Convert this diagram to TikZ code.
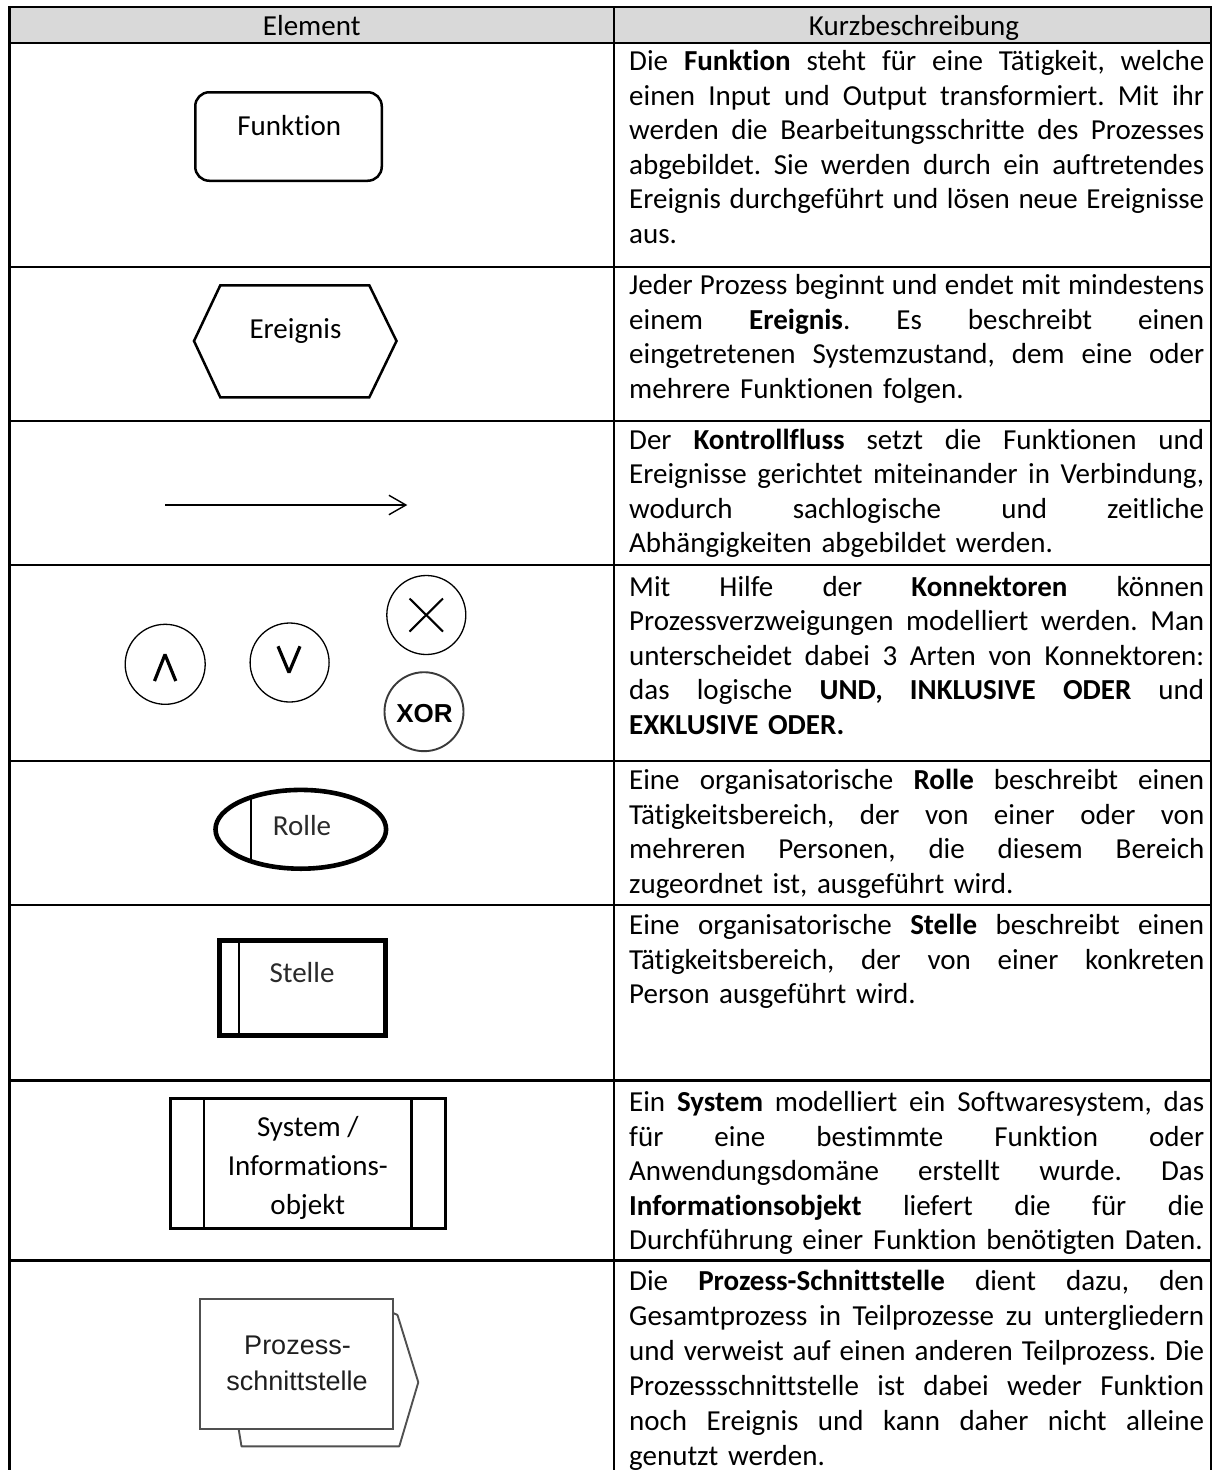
\documentclass[tikz,border=0pt]{standalone}
\usepackage{fontspec}
\setmainfont{Carlito}[Ligatures=NoCommon]
\newfontfamily\arialfont{Liberation Sans}
\usetikzlibrary{arrows.meta}

\definecolor{headgray}{HTML}{D9D9D9}
\definecolor{ifline}{HTML}{505050}
\definecolor{iftext}{HTML}{1E1E1E}
\definecolor{orgtext}{HTML}{2A2A2A}
\definecolor{xorline}{HTML}{3A3A3A}

% width of the description column text block
\newlength{\desccolw}
\setlength{\desccolw}{575pt}
% one fully justified line of a description (natural, stretchable word spaces)
\newcommand{\jline}[1]{\makebox[\desccolw][s]{\spaceskip=0pt\xspaceskip=0pt\frenchspacing #1}}

\tikzset{
  grid/.style={line width=2.8pt},
  celltext/.style={inner sep=0pt, font=\fontsize{29}{34.5}\selectfont},
  desc/.style={celltext, anchor=north west, text width=\desccolw, align=left},
  shapeline/.style={line width=2.5pt},
  thinline/.style={line width=1.3pt},
  glyphline/.style={line width=3.2pt, line join=bevel},
  flowarrow/.style={line width=1.4pt,
    -{Straight Barb[length=17pt, width=19.5pt, line width=1.4pt]}},
}

\begin{document}
\begin{tikzpicture}[x=1pt, y=-1pt]
\useasboundingbox (0,0) rectangle (1214,1470);

% ---------- table frame ----------
\fill[headgray] (9.5,7) rectangle (1211,43);
\draw[grid] (9.5,1472) -- (9.5,7) -- (1211,7) -- (1211,1472);
\draw[grid] (614,7) -- (614,1472);
\foreach \yy in {43,267,421,565,761,905,1080.5,1260.5}
  \draw[grid] (9.5,\yy) -- (1211,\yy);

% ---------- header ----------
\node[celltext, anchor=base] (hElem) at (311.75,35) {Element};
\node[celltext, anchor=base] (hDesc) at (914,35) {Kurzbeschreibung};

% ---------- Funktion ----------
\node[draw, shapeline, rectangle, rounded corners=14pt, inner sep=0pt,
      minimum width=186.5pt, minimum height=88.5pt] (fbox) at (288.5,136.5) {};
\node[celltext, anchor=base] (ftext) at (289.3,135) {Funktion};

% ---------- Ereignis ----------
\draw[shapeline, line join=miter] (194,341) -- (220.3,285.3) -- (369.3,285.3)
  -- (396.5,341) -- (369.3,397.3) -- (220.3,397.3) -- cycle;
\node[celltext, anchor=base] (etext) at (295.5,338) {Ereignis};

% ---------- Kontrollfluss ----------
\coordinate (kfstart) at (165,505);
\coordinate (kfend) at (407.3,505);
\draw[flowarrow] (kfstart) -- (kfend);

% ---------- Konnektoren ----------
\node[draw, thinline, circle, inner sep=0pt, minimum size=80pt] (und) at (165.2,664.3) {};
\draw[glyphline] (154.5,681) -- (165,654.5) -- (175.8,681);

\node[draw, thinline, circle, inner sep=0pt, minimum size=79pt] (oder) at (289.6,662.5) {};
\draw[glyphline] (278,646.3) -- (289,672.5) -- (300,646.3);

\node[draw, thinline, circle, inner sep=0pt, minimum size=79pt] (xcirc) at (426.3,615) {};
\draw[line width=2.1pt] (409.5,598.5) -- (443,631.5);
\draw[line width=2.1pt] (409.5,631.5) -- (443,598.5);

\node[draw=xorline, line width=1.9pt, circle, inner sep=0pt, minimum size=79pt] (xorc) at (424,711.7) {};
\node[anchor=base, inner sep=0pt, font=\arialfont\bfseries\fontsize{26}{30}\selectfont] (xortext) at (424.5,722) {XOR};

% ---------- Rolle ----------
\begin{scope}
  \clip (300.8,829.3) ellipse [x radius=85.3pt, y radius=39.4pt];
  \draw[line width=1.5pt] (251,780) -- (251,880);
\end{scope}
\draw[line width=4.6pt] (300.8,829.3) ellipse [x radius=85.3pt, y radius=39.4pt];
\node[celltext, anchor=base, text=orgtext] (rtext) at (302,835) {Rolle};

% ---------- Stelle ----------
\draw[line width=1.5pt] (239,942) -- (239,1034);
\draw[line width=5pt] (219.8,940.8) rectangle (385.8,1035.2);
\node[celltext, anchor=base, text=orgtext] (stext) at (302,982) {Stelle};

% ---------- System / Informationsobjekt ----------
\draw[line width=2.6pt] (170.6,1098.3) rectangle (445.4,1228.4);
\draw[line width=2.6pt] (204,1098.3) -- (204,1228.4);
\draw[line width=2.6pt] (411.3,1098.3) -- (411.3,1228.4);
\node[celltext, anchor=base] (sys1) at (307.8,1136) {System /};
\node[celltext, anchor=base] (sys2) at (307.8,1175) {Informations-};
\node[celltext, anchor=base] (sys3) at (307.8,1214) {objekt};

% ---------- Prozess-Schnittstelle ----------
\draw[ifline, line width=1.9pt, line join=round]
  (393.3,1313) -- (397.5,1315) -- (418.3,1382.3) -- (399.3,1446.3)
  -- (241.5,1446.3) -- (238.8,1430);
\draw[ifline, line width=2pt, fill=white] (200,1299) rectangle (393.3,1429);
\node[anchor=base, inner sep=0pt, text=iftext,
      font=\arialfont\fontsize{27}{32}\selectfont] (ps1) at (297.5,1354) {Prozess-};
\node[anchor=base, inner sep=0pt, text=iftext,
      font=\arialfont\fontsize{27}{32}\selectfont] (ps2) at (297,1390) {schnittstelle};

% ---------- descriptions ----------
\node[desc] (d1) at (629,46.6) {\strut\jline{Die \textbf{Funktion} steht für eine Tätigkeit, welche}\\
\jline{einen Input und Output transformiert. Mit ihr}\\
\jline{werden die Bearbeitungsschritte des Prozesses}\\
\jline{abgebildet. Sie werden durch ein auftretendes}\\
\jline{Ereignis durchgeführt und lösen neue Ereignisse}\\
aus.};

\node[desc] (d2) at (629,270.6) {\strut\jline{Jeder Prozess beginnt und endet mit mindestens}\\
\jline{einem \textbf{Ereignis}. Es beschreibt einen}\\
\jline{eingetretenen Systemzustand, dem eine oder}\\
mehrere Funktionen folgen.};

\node[desc] (d3) at (629,425.1) {\strut\jline{Der \textbf{Kontrollfluss} setzt die Funktionen und}\\
\jline{Ereignisse gerichtet miteinander in Verbindung,}\\
\jline{wodurch sachlogische und zeitliche}\\
Abhängigkeiten abgebildet werden.};

\node[desc] (d4) at (629,572.1) {\strut\jline{Mit Hilfe der \textbf{Konnektoren} können}\\
\jline{Prozessverzweigungen modelliert werden. Man}\\
\jline{unterscheidet dabei 3 Arten von Konnektoren:}\\
\jline{das logische \textbf{UND, INKLUSIVE ODER} und}\\
\textbf{EXKLUSIVE ODER.}};

\node[desc] (d5) at (629,765.6) {\strut\jline{Eine organisatorische \textbf{Rolle} beschreibt einen}\\
\jline{Tätigkeitsbereich, der von einer oder von}\\
\jline{mehreren Personen, die diesem Bereich}\\
zugeordnet ist, ausgeführt wird.};

\node[desc] (d6) at (629,910.6) {\strut\jline{Eine organisatorische \textbf{Stelle} beschreibt einen}\\
\jline{Tätigkeitsbereich, der von einer konkreten}\\
Person ausgeführt wird.};

\node[desc] (d7) at (629,1087.6) {\strut\jline{Ein \textbf{System} modelliert ein Softwaresystem, das}\\
\jline{für eine bestimmte Funktion oder}\\
\jline{Anwendungsdomäne erstellt wurde. Das}\\
\jline{\textbf{Informationsobjekt} liefert die für die}\\
Durchführung einer Funktion benötigten Daten.};

\node[desc, font=\fontsize{29}{35}\selectfont] (d8) at (629,1265.5) {\strut\jline{Die \textbf{Prozess-Schnittstelle} dient dazu, den}\\
\jline{Gesamtprozess in Teilprozesse zu untergliedern}\\
\jline{und verweist auf einen anderen Teilprozess. Die}\\
\jline{Prozessschnittstelle ist dabei weder Funktion}\\
\jline{noch Ereignis und kann daher nicht alleine}\\
genutzt werden.};

\end{tikzpicture}
\end{document}
